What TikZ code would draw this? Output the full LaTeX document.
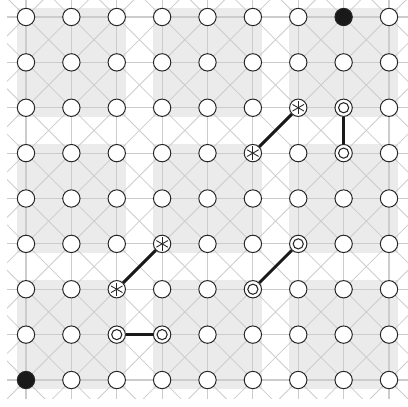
\documentclass[tikz,border=0pt]{standalone}
\begin{document}
\begin{tikzpicture}[x=0.75pt,y=-0.75pt,
  gridln/.style={draw=black!20, line width=0.9pt},
  diagln/.style={draw=black!20, line width=0.6pt},
  blockbg/.style={fill=black!8, draw=none},
  stone/.style={circle, draw=black!85, line width=0.75pt, fill=white, minimum size=13pt, inner sep=0pt},
  blackstone/.style={stone, fill=black!90},
  dotmark/.style={stone, path picture={
      \draw[line width=0.8pt] (path picture bounding box.center) circle (3.8pt);
      \fill (path picture bounding box.center) circle (1.3pt);}},
  starmark/.style={stone, path picture={
      \foreach \a in {90,30,150}{
        \draw[line width=0.65pt] ([shift={(\a:5pt)}]path picture bounding box.center) -- ([shift={(\a+180:5pt)}]path picture bounding box.center);}}},
  link/.style={draw=black!90, line width=2.2pt}
]
\useasboundingbox (0,0) rectangle (408,407);
\begin{scope}
\clip (7,0) rectangle (408,398);
\begin{scope}[shift={(26,17)}, x=34.03125pt, y=-34.03125pt]
  % gray blocks
  \foreach \bi in {0,1,2}{
    \foreach \bj in {0,1,2}{
      \fill[blockbg] ({3*\bi-0.2},{3*\bj-0.2}) rectangle ({3*\bi+2.2},{3*\bj+2.2});
    }}
  % diagonals
  \foreach \k in {-10,...,18}{
    \draw[diagln] (\k-3,-3) -- (\k+12,12);
    \draw[diagln] (\k+3,-3) -- (\k-12,12);
  }
  % orthogonal lines
  \foreach \i in {0,...,8}{
    \draw[gridln] (-1,\i) -- (9,\i);
    \draw[gridln] (\i,-1) -- (\i,9);
  }
\end{scope}
\end{scope}
\begin{scope}[shift={(26,17)}, x=34.03125pt, y=-34.03125pt]
  % stones
  \foreach \c in {0,...,8}{
    \foreach \r in {0,...,8}{
      \coordinate (p-\c-\r) at (\c,\r);
    }}
  \foreach \c/\r in {0/0,1/0,2/0,3/0,4/0,5/0,6/0,8/0,
                     0/1,1/1,2/1,3/1,4/1,5/1,6/1,7/1,8/1,
                     0/2,1/2,2/2,3/2,4/2,5/2,8/2,
                     0/3,1/3,2/3,3/3,4/3,6/3,8/3,
                     0/4,1/4,2/4,3/4,4/4,5/4,6/4,7/4,8/4,
                     0/5,1/5,2/5,4/5,5/5,7/5,8/5,
                     0/6,1/6,3/6,4/6,6/6,7/6,8/6,
                     0/7,1/7,4/7,5/7,6/7,7/7,8/7,
                     1/8,2/8,3/8,4/8,5/8,6/8,7/8,8/8}{
    \node[stone] (s-\c-\r) at (p-\c-\r) {};
  }
  \node[blackstone] (s-7-0) at (p-7-0) {};
  \node[blackstone] (s-0-8) at (p-0-8) {};
  \node[starmark] (s-6-2) at (p-6-2) {};
  \node[starmark] (s-5-3) at (p-5-3) {};
  \node[starmark] (s-3-5) at (p-3-5) {};
  \node[starmark] (s-2-6) at (p-2-6) {};
  \node[dotmark] (s-7-2) at (p-7-2) {};
  \node[dotmark] (s-7-3) at (p-7-3) {};
  \node[dotmark] (s-6-5) at (p-6-5) {};
  \node[dotmark] (s-5-6) at (p-5-6) {};
  \node[dotmark] (s-2-7) at (p-2-7) {};
  \node[dotmark] (s-3-7) at (p-3-7) {};
  % links
  \draw[link] (s-6-2) -- (s-5-3);
  \draw[link] (s-7-2) -- (s-7-3);
  \draw[link] (s-3-5) -- (s-2-6);
  \draw[link] (s-6-5) -- (s-5-6);
  \draw[link] (s-2-7) -- (s-3-7);
\end{scope}
\end{tikzpicture}
\end{document}
